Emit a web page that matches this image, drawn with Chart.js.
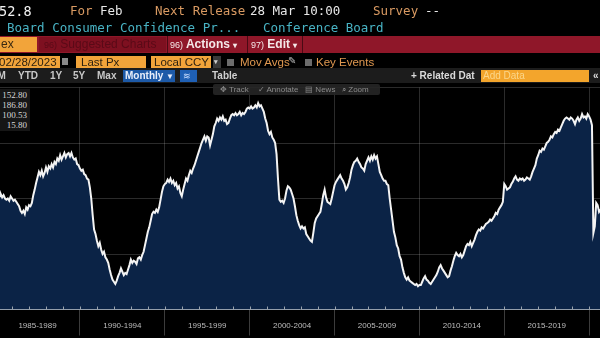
<!DOCTYPE html>
<html>
<head>
<meta charset="utf-8">
<script src="https://cdn.jsdelivr.net/npm/chart.js@4"></script>
<style>
  body { margin: 0; background: #000; width: 600px; height: 338px; overflow: hidden; position: relative; }
  #chart { position: absolute; left: 0; top: 0; }
  .t { position: absolute; white-space: nowrap; }
  .mono { font-family: "DejaVu Sans Mono", monospace; font-size: 12.5px; line-height: 14px; }
  .bar { font-family: "Liberation Sans", Arial, sans-serif; font-weight: bold; }
  .box { position: absolute; }
</style>
</head>
<body>
<canvas id="chart" width="600" height="338"></canvas>

<!-- ticker header -->
<div class="t mono" style="left:-1px;top:4px;color:#f2f2f2;font-size:13.5px">52.8</div>
<div class="t mono" style="left:70px;top:4px;color:#d99a62">For</div>
<div class="t mono" style="left:100px;top:4px;color:#e8e8e8">Feb</div>
<div class="t mono" style="left:155px;top:4px;color:#d99a62">Next Release</div>
<div class="t mono" style="left:250px;top:4px;color:#e8e8e8">28 Mar 10:00</div>
<div class="t mono" style="left:373px;top:4px;color:#d99a62">Survey</div>
<div class="t mono" style="left:425px;top:4px;color:#e8e8e8">--</div>
<div class="t mono" style="left:7px;top:21px;color:#48b3c4">Board Consumer Confidence Pr...</div>
<div class="t mono" style="left:263px;top:21px;color:#48b3c4">Conference Board</div>

<!-- red action bar -->
<div class="box" style="left:0;top:36px;width:600px;height:17px;background:#8f1729"></div>
<div class="box" style="left:0;top:37px;width:37px;height:15px;background:#f2a43a"></div>
<div class="t bar" style="left:1px;top:37px;font-size:12px;line-height:15px;color:#3b2a12;font-weight:normal">ex</div>
<div class="box" style="left:39px;top:37px;width:127px;height:15px;background:#7e1020"></div>
<div class="t bar" style="left:44px;top:37px;font-size:12px;line-height:15px;color:#5a0a17;font-weight:normal"><span style="font-size:9px">96)</span> Suggested Charts</div>
<div class="box" style="left:167px;top:36px;width:1px;height:17px;background:#4a0a14"></div>
<div class="t bar" style="left:170px;top:37px;font-size:12px;line-height:15px;color:#f4e8e8"><span style="font-size:9px;font-weight:normal">96)</span> Actions <span style="font-size:8px">&#9662;</span></div>
<div class="box" style="left:247px;top:36px;width:1px;height:17px;background:#4a0a14"></div>
<div class="t bar" style="left:251px;top:37px;font-size:12px;line-height:15px;color:#f4e8e8"><span style="font-size:9px;font-weight:normal">97)</span> Edit <span style="font-size:8px">&#9662;</span></div>
<div class="box" style="left:302px;top:36px;width:1px;height:17px;background:#4a0a14"></div>

<!-- date / field row -->
<div class="box" style="left:-1px;top:56px;width:61px;height:12px;background:#f2a43a"></div>
<div class="t bar" style="left:-1px;top:56px;font-size:11.5px;line-height:12px;color:#2e2210;font-weight:normal">02/28/2023</div>
<div class="box" style="left:62px;top:58px;width:6px;height:7px;background:#8a8a8a"></div>
<div class="box" style="left:76px;top:56px;width:70px;height:12px;background:#f2a43a"></div>
<div class="t bar" style="left:81px;top:56px;font-size:11.5px;line-height:12px;color:#2e2210;font-weight:normal">Last Px</div>
<div class="box" style="left:151px;top:56px;width:60px;height:12px;background:#f2a43a"></div>
<div class="t bar" style="left:154px;top:56px;font-size:11.5px;line-height:12px;color:#2e2210;font-weight:normal">Local CCY</div>
<div class="box" style="left:213px;top:56px;width:8px;height:12px;background:#3a3a3a"></div>
<div class="t bar" style="left:214px;top:56px;font-size:7px;line-height:12px;color:#ccc">&#9662;</div>
<div class="box" style="left:227px;top:59px;width:7px;height:7px;background:#6c6c6c"></div>
<div class="t bar" style="left:240px;top:56px;font-size:11.5px;line-height:12px;color:#e09850;font-weight:normal">Mov Avgs</div>
<div class="t bar" style="left:288px;top:55px;font-size:10px;line-height:12px;color:#bbb;font-weight:normal">&#9998;</div>
<div class="box" style="left:305px;top:59px;width:7px;height:7px;background:#6c6c6c"></div>
<div class="t bar" style="left:316px;top:56px;font-size:11.5px;line-height:12px;color:#e09850;font-weight:normal">Key Events</div>

<!-- period toolbar -->
<div class="box" style="left:0;top:68px;width:600px;height:15px;background:#1c1c1c"></div>
<div class="t bar" style="left:-8px;top:70px;font-size:10px;line-height:12px;color:#c8c8c8">1M</div>
<div class="t bar" style="left:18px;top:70px;font-size:10px;line-height:12px;color:#c8c8c8">YTD</div>
<div class="t bar" style="left:50px;top:70px;font-size:10px;line-height:12px;color:#c8c8c8">1Y</div>
<div class="t bar" style="left:73px;top:70px;font-size:10px;line-height:12px;color:#c8c8c8">5Y</div>
<div class="t bar" style="left:97px;top:70px;font-size:10px;line-height:12px;color:#c8c8c8">Max</div>
<div class="box" style="left:123px;top:70px;width:52px;height:12px;background:#1d5aa8"></div>
<div class="t bar" style="left:125px;top:70px;font-size:10px;line-height:12px;color:#e8eefa">Monthly <span style="font-size:8px">&#9660;</span></div>
<div class="box" style="left:180px;top:70px;width:17px;height:12px;background:#1f60b5"></div>
<div class="t bar" style="left:183px;top:70px;font-size:9px;line-height:12px;color:#cfe0ff;font-weight:normal">&#8779;</div>
<div class="t bar" style="left:212px;top:70px;font-size:10px;line-height:12px;color:#d0d0d0">Table</div>
<div class="t bar" style="left:411px;top:70px;font-size:10px;line-height:12px;color:#dadada">+ Related Dat</div>
<div class="box" style="left:481px;top:70px;width:108px;height:12px;background:#f3a52c"></div>
<div class="t bar" style="left:483px;top:70px;font-size:10px;line-height:12px;color:#fbd68a;font-weight:normal">Add Data</div>
<div class="t bar" style="left:593px;top:70px;font-size:10px;line-height:12px;color:#ddd">&laquo;</div>

<!-- chart tools -->
<div class="box" style="left:213px;top:84px;width:167px;height:11px;background:rgba(38,38,38,0.9);border-radius:2px"></div>
<div class="t bar" style="left:220px;top:84px;font-size:8px;line-height:11px;color:#8c8c8c;font-weight:normal">&#10021; Track &nbsp;&nbsp;&nbsp;&#10003; Annotate &nbsp;&nbsp;&#9636; News &nbsp;&nbsp;&#8981; Zoom</div>

<!-- stats legend -->
<div class="box" style="left:0;top:89px;width:30px;height:42px;background:#161616"></div>
<div class="t" id="stats" style="left:0;top:90px;width:27px;text-align:right;font-family:'Liberation Serif',serif;font-size:9px;line-height:10px;color:#d8d8d8"></div>

<script>
// Present Situation index, monthly, starting March 1985
const firstYear = 1985;
const firstMonth = 3;
const presentSituation = [
  101, 102, 104, 101, 103, 100, 99, 100, 98, 102,
  100, 98, 99, 97, 95, 93, 89, 87, 89, 86, 92, 90,
  94, 93, 96, 103, 108, 114, 119, 124, 121, 125, 120, 123,
  128, 124, 129, 127, 131, 128, 133, 131, 136, 134, 139, 135,
  138, 141, 137, 140, 141, 138, 141, 137, 135, 136, 131, 130,
  127, 125, 126, 122, 121, 118, 117, 110, 100, 85, 72, 68,
  62, 57, 60, 54, 50, 52, 47, 45, 42, 36, 31, 27,
  25, 23, 26, 30, 33, 37, 34, 31, 33, 32, 36, 40,
  45, 42, 44, 43, 41, 46, 47, 45, 49, 52, 58, 64,
  70, 74, 80, 86, 88, 87, 90, 88, 92, 99, 106, 111,
  113, 114, 117, 115, 118, 114, 116, 112, 114, 109, 111, 105,
  102, 108, 113, 118, 116, 121, 125, 123, 127, 130, 134, 138,
  142, 146, 150, 153, 156, 152, 156, 155, 148, 153, 158, 165,
  168, 172, 170, 173, 171, 174, 170, 171, 167, 168, 172, 175,
  176, 175, 177, 175, 176, 178, 175, 177, 176, 178, 181, 182,
  181, 183, 181, 182, 184, 182, 186, 183, 184, 181, 178, 172,
  168, 161, 158, 160, 155, 153, 150, 140, 118, 99, 97, 98,
  96, 100, 107, 111, 110, 108, 104, 100, 93, 85, 80, 76,
  73, 75, 73, 74, 68, 66, 64, 62, 61, 69, 78, 82,
  84, 86, 88, 95, 103, 108, 101, 97, 96, 95, 100, 106,
  112, 115, 117, 119, 121, 118, 116, 113, 108, 110, 114, 119,
  126, 130, 133, 134, 136, 133, 131, 128, 127, 125, 131, 134,
  137, 134, 138, 135, 139, 136, 138, 131, 124, 121, 118, 116,
  116, 113, 112, 100, 90, 80, 70, 65, 58, 55, 48, 45,
  38, 33, 29, 27, 29, 26, 25, 24, 23, 22, 23, 21,
  22, 22, 25, 28, 30, 27, 26, 24, 23, 25, 27, 29,
  31, 34, 38, 40, 37, 35, 33, 31, 29, 30, 35, 39,
  44, 48, 51, 49, 48, 50, 47, 49, 53, 57, 59, 58,
  61, 57, 60, 63, 67, 70, 72, 71, 74, 73, 75, 77,
  78, 79, 81, 80, 82, 84, 87, 86, 90, 92, 94, 97,
  113, 111, 108, 109, 110, 113, 115, 118, 120, 117, 116, 118,
  117, 118, 116, 117, 119, 118, 117, 120, 124, 127, 130, 136,
  139, 143, 142, 145, 144, 147, 150, 151, 153, 156, 155, 158,
  160, 159, 162, 161, 164, 167, 170, 172, 173, 172, 171, 173,
  172, 170, 167, 171, 173, 170, 172, 176, 173, 174, 172, 176,
  174, 171, 166, 69, 75, 96, 94, 88, 90
];

// x axis period bands and y grid
const periodLabels = ['1985-1989', '1990-1994', '1995-1999', '2000-2004', '2005-2009', '2010-2014', '2015-2019'];
const periodStarts = [1985, 1990, 1995, 2000, 2005, 2010, 2015, 2020];
const yTicks = [0, 50, 100, 150, 200];
const statValues = ['152.80', '186.80', '100.53', '15.80'];

document.getElementById('stats').innerHTML = statValues.join('<br>');

const points = presentSituation.map((v, i) => ({
  x: firstYear + (firstMonth - 1 + i) / 12,
  y: v
}));

const gridColor = 'rgba(255,255,255,0.17)';

// little year ticks sitting on top of the axis line
const yearTicks = {
  id: 'yearTicks',
  afterDraw(chart) {
    const x = chart.scales.x, area = chart.chartArea, c = chart.ctx;
    c.save();
    c.strokeStyle = '#9aa3ad';
    c.lineWidth = 1;
    for (let yr = Math.ceil(x.min); yr <= x.max; yr++) {
      const px = Math.round(x.getPixelForValue(yr)) + 0.5;
      c.beginPath();
      c.moveTo(px, area.bottom - 3);
      c.lineTo(px, area.bottom);
      c.stroke();
    }
    c.restore();
  }
};

new Chart(document.getElementById('chart'), {
  type: 'line',
  data: {
    datasets: [{
      data: points,
      borderColor: '#f4f4f4',
      borderWidth: 2,
      backgroundColor: '#0b2346',
      fill: 'origin',
      pointRadius: 0,
      tension: 0
    }]
  },
  options: {
    responsive: false,
    animation: false,
    devicePixelRatio: 1,
    layout: { padding: { top: 87.5, left: 0, right: 0, bottom: 0 } },
    plugins: { legend: { display: false }, tooltip: { enabled: false } },
    scales: {
      x: {
        type: 'linear',
        min: 1985.29,
        max: 2020.64,
        z: 1,
        afterBuildTicks: s => {
          const t = [];
          periodStarts.forEach((p, i) => {
            if (periodLabels[i]) t.push({ value: p + 2.5 });
            if (i > 0) t.push({ value: p });
          });
          s.ticks = t;
        },
        afterFit: s => { s.height = 28.5; },
        grid: {
          color: c => (c.tick && c.tick.value % 5 === 0) ? gridColor : 'transparent',
          tickColor: c => (c.tick && c.tick.value % 5 === 0) ? '#3c3c3c' : 'transparent',
          tickLength: 26
        },
        border: { display: true, color: '#a9b1ba', width: 1 },
        ticks: {
          autoSkip: false,
          maxRotation: 0,
          padding: -14.5,
          color: '#bdbdbd',
          font: { family: 'Liberation Sans', size: 8 },
          callback: v => {
            const i = periodStarts.indexOf(v - 2.5);
            return i >= 0 ? periodLabels[i] : '';
          }
        }
      },
      y: {
        min: 0,
        max: 200,
        z: 1,
        afterBuildTicks: s => { s.ticks = yTicks.map(v => ({ value: v })); },
        afterFit: s => { s.width = 0; },
        grid: { color: gridColor, drawTicks: false },
        border: { display: false },
        ticks: { display: false }
      }
    }
  },
  plugins: [yearTicks]
});
</script>
</body>
</html>
